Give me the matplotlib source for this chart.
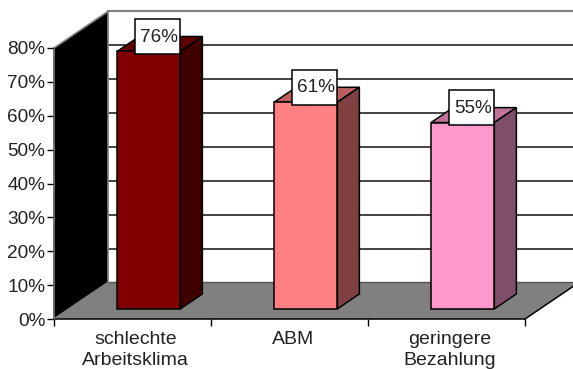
"""Bar chart drawn as a 3D box chart, with walls and a floor behind the bars."""

import matplotlib
matplotlib.use('Agg')
import matplotlib.pyplot as plt
from matplotlib.patches import Polygon, Rectangle

categories = ['schlechte\nArbeitsklima', 'ABM', 'geringere\nBezahlung']
values = [76, 61, 55]
bar_colors = ['#800000', '#FF8080', '#FF99CC']
top_colors = ['#600000', '#BF6060', '#BF7399']
side_colors = ['#400000', '#804040', '#80506A']
y_ticks = [0, 10, 20, 30, 40, 50, 60, 70, 80]

# depth of the room and of the bars, in axis units
room_dx = 0.344
room_dy = 10.8
bar_dx = 0.14
bar_dy = 4.4
bar_lift = 3.0
bar_start = 0.402
bar_width = 0.403

plt.rcParams['font.family'] = ['Liberation Sans', 'DejaVu Sans']

fig = plt.figure(figsize=(5.73, 3.69), dpi=100)
ax = fig.add_axes([54 / 573, 50 / 369, 471 / 573, 271 / 369])
ax.set_xlim(0, len(categories))
ax.set_ylim(0, y_ticks[-1])
ax.patch.set_visible(False)


def poly(points, face, edge='black', lw=1.0, z=2):
	ax.add_patch(Polygon(points, closed=True, facecolor=face, edgecolor=edge, linewidth=lw, clip_on=False, zorder=z, joinstyle='miter'))


xmax = len(categories)
ymax = y_ticks[-1]

# floor and left wall
poly([(0, 0), (xmax, 0), (xmax + room_dx, room_dy), (room_dx, room_dy)], '#808080', edge='none', z=1)
poly([(0, 0), (0, ymax), (room_dx, ymax + room_dy), (room_dx, room_dy)], 'black', edge='#808080', lw=1.2, z=1.5)

# gridlines on the back wall
for t in y_ticks[1:-1]:
	ax.plot([room_dx, xmax + room_dx], [t + room_dy, t + room_dy], color='#111111', lw=1.1, clip_on=False, zorder=1.2)
ax.plot([room_dx, xmax + room_dx], [room_dy, room_dy], color='#555555', lw=1.0, clip_on=False, zorder=1.2)
ax.plot([room_dx, xmax + room_dx], [ymax + room_dy, ymax + room_dy], color='#808080', lw=1.6, clip_on=False, zorder=1.2)
ax.plot([xmax, xmax + room_dx], [0, room_dy], color='black', lw=1.1, clip_on=False, zorder=1.3)

# bars: front, top and side faces
for i, val in enumerate(values):
	x0 = i + bar_start
	x1 = x0 + bar_width
	y0 = bar_lift
	y1 = bar_lift + val
	poly([(x0, y1), (x1, y1), (x1 + bar_dx, y1 + bar_dy), (x0 + bar_dx, y1 + bar_dy)], top_colors[i], lw=1.1, z=3)
	poly([(x1, y0), (x1 + bar_dx, y0 + bar_dy), (x1 + bar_dx, y1 + bar_dy), (x1, y1)], side_colors[i], lw=1.1, z=3)
	poly([(x0, y0), (x1, y0), (x1, y1), (x0, y1)], bar_colors[i], lw=1.1, z=3.2)

	# value label in a white box over the top of the bar
	bw = 0.287
	bh = 10.2
	bx = x1 - bw
	by = y1 - 0.7
	ax.add_patch(Rectangle((bx, by), bw, bh, facecolor='white', edgecolor='black', linewidth=1.1, clip_on=False, zorder=4))
	ax.text(bx + bw / 2 + 0.005, by + bh / 2 - 0.2, '%d%%' % val, ha='center', va='center', fontsize=13.7, color='#222222', zorder=5)

# axes
for side in ['top', 'right']:
	ax.spines[side].set_visible(False)
ax.spines['left'].set_color('#666666')
ax.spines['left'].set_linewidth(1.1)
ax.spines['bottom'].set_color('black')
ax.spines['bottom'].set_linewidth(1.1)
ax.spines['bottom'].set_zorder(2)

ax.set_yticks(y_ticks)
ax.set_yticklabels(['%d%%' % t for t in y_ticks])
ax.tick_params(axis='y', length=5, width=1.0, pad=1.2, labelsize=13.7, labelcolor='#222222')
ax.set_xticks(range(xmax + 1))
ax.set_xticklabels([])
ax.tick_params(axis='x', length=5, width=1.0)
ax.set_xticks([i + 0.52 for i in range(xmax)], minor=True)
ax.set_xticklabels(categories, minor=True, fontsize=14, color='#222222', linespacing=1.36)
ax.tick_params(axis='x', which='minor', length=0, pad=8.5)

fig.savefig('out.png', dpi=100, facecolor='white')
